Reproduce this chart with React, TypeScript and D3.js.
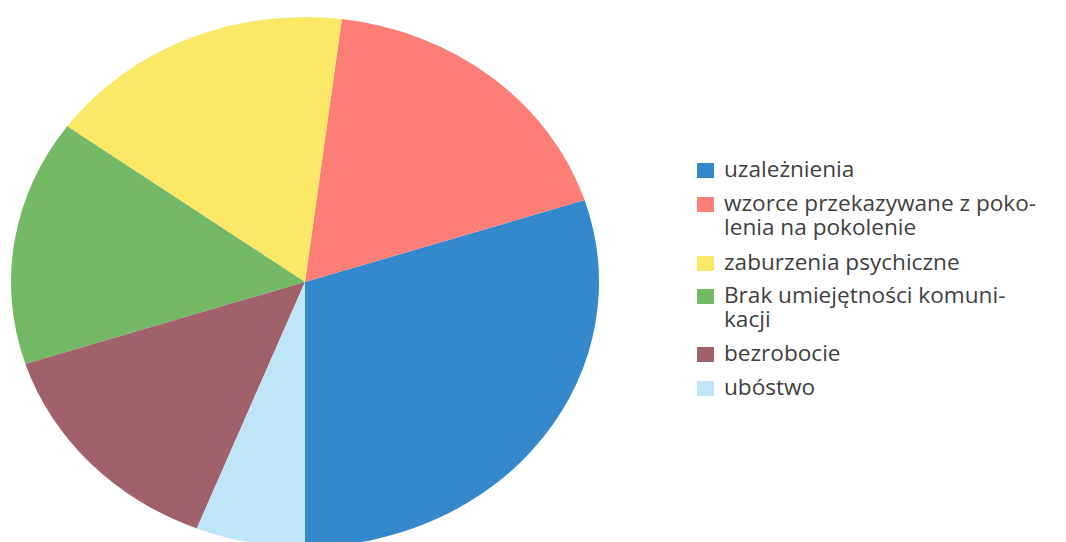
import React from "react";
import * as d3 from "d3";

const categories = [
  "uzależnienia",
  "wzorce przekazywane z pokolenia na pokolenie",
  "zaburzenia psychiczne",
  "Brak umiejętności komunikacji",
  "bezrobocie",
  "ubóstwo",
];
const values = [30, 18, 17, 15, 14, 6];
const legendLines = [
  ["uzależnienia"],
  ["wzorce przekazywane z poko-", "lenia na pokolenie"],
  ["zaburzenia psychiczne"],
  ["Brak umiejętności komuni-", "kacji"],
  ["bezrobocie"],
  ["ubóstwo"],
];
const colors = ["#3489cd", "#fd7e77", "#fbe866", "#74b966", "#a0616b", "#bfe6f8"];

const W = 1066;
const H = 542;
const cx = 305;
const cy = 282;
const ry = 265;
const rx = 294;

export default function App() {
  const pie = d3
    .pie<number>()
    .sort(null)
    .startAngle(Math.PI)
    .endAngle(-Math.PI)
    .value((d) => d);
  const arcs = pie(values);
  const arc = d3.arc<d3.PieArcDatum<number>>().innerRadius(0).outerRadius(ry);

  const lineYs = [[177], [211, 235], [270], [303, 327], [361], [395]];

  return (
    <svg
      width={W}
      height={H}
      style={{ position: "absolute", left: 0, top: 0, background: "#fff" }}
    >
      <rect x={0} y={0} width={W} height={H} fill="#fff" />
      <g transform={`translate(${cx},${cy}) scale(${rx / ry},1)`}>
        {arcs.map((a, i) => (
          <path key={i} d={arc(a) || ""} fill={colors[i]} />
        ))}
      </g>
      <g fontFamily="'Open Sans', 'Noto Sans', sans-serif" fontSize={22.6} fill="#3f3f3f">
        {categories.map((c, i) => (
          <g key={c}>
            <rect
              x={697}
              y={lineYs[i][0] - 14}
              width={17}
              height={15}
              fill={colors[i]}
            />
            {legendLines[i].map((t, j) => (
              <text key={j} x={724} y={lineYs[i][j]}>
                {t}
              </text>
            ))}
          </g>
        ))}
      </g>
    </svg>
  );
}
